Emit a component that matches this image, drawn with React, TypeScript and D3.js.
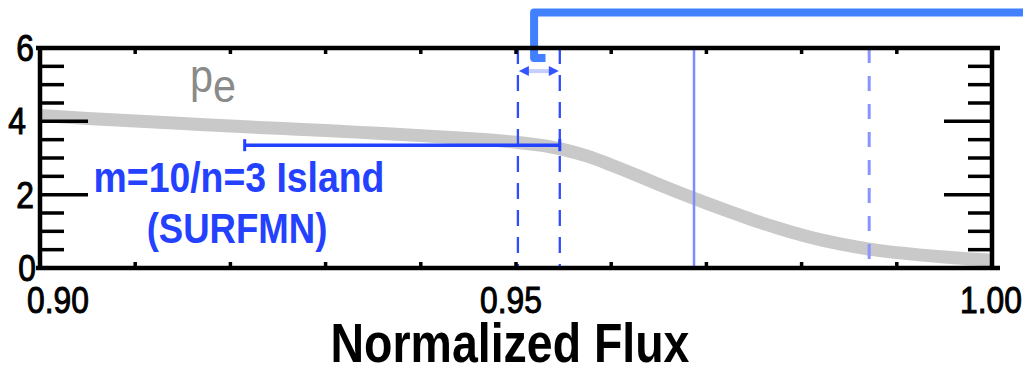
import React from "react";
import * as d3 from "d3";

// Electron pressure profile near the edge (normalized poloidal flux vs p_e)
const fluxValues = [
  0.9, 0.905, 0.91, 0.915, 0.92, 0.925, 0.93, 0.935, 0.94, 0.945, 0.95, 0.9525,
  0.955, 0.9575, 0.96, 0.9625, 0.965, 0.9675, 0.97, 0.9725, 0.975, 0.9775, 0.98,
  0.9825, 0.985, 0.9875, 0.99, 0.995, 1.0,
];
const peValues = [
  4.16, 4.08, 4.01, 3.94, 3.87, 3.81, 3.75, 3.68, 3.61, 3.53, 3.43, 3.35, 3.23,
  3.05, 2.81, 2.55, 2.28, 2.02, 1.77, 1.53, 1.3, 1.09, 0.9, 0.74, 0.61, 0.5,
  0.42, 0.3, 0.21,
];

// Axis ticks
const xLabelTicks = [0.9, 0.95, 1.0];
const xLabelTexts = ["0.90", "0.95", "1.00"];
const xMinorTicks = [0.91, 0.92, 0.93, 0.94, 0.95, 0.96, 0.97, 0.98, 0.99];
const yMajorTicks = [0, 2, 4, 6];
const yMajorTexts = ["0", "2", "4", "6"];
const yMinorTicks = [0.5, 1, 1.5, 2.5, 3, 3.5, 4.5, 5, 5.5];

// m=10/n=3 island extent from SURFMN
const islandFlux = [0.9215, 0.9546];
const islandLevel = 3.35;
// island separatrix bounds (dashed) and resonant surfaces
const islandBounds = [0.9502, 0.9546];
const resonantSolid = [0.9687];
const resonantDashed = [0.9871];
// width arrow between the bounds
const arrowLevel = 5.37;
// call-out bracket
const bracketFlux = 0.9519;
const bracketTop = 6.97;
const bracketFootLevel = 5.73;
const bracketFootFlux = 0.9531;

const W = 1023;
const H = 369;
const FONT = "'Liberation Sans', Arial, Helvetica, sans-serif";
const BLUE = "#2341ff";

export default function App() {
  const x = d3.scaleLinear().domain([0.9, 1.0]).range([40, 992]);
  const y = d3.scaleLinear().domain([0, 6]).range([268, 48]);

  const line = d3
    .line<number>()
    .x((_, i) => x(fluxValues[i]))
    .y((d) => y(d))
    .curve(d3.curveCatmullRom.alpha(0.5));

  const x0 = x.range()[0];
  const x1 = x.range()[1];
  const yTop = y.range()[1];
  const yBot = y.range()[0];

  const tickStroke = 3.5;
  const axisStroke = 4.5;

  const arrowY = y(arrowLevel);
  const aL = x(islandBounds[0]);
  const aR = x(islandBounds[1]);

  const bx = x(bracketFlux);
  const bracketPath = `M ${W + 10} ${y(bracketTop)} H ${bx} V ${y(bracketFootLevel)} H ${x(bracketFootFlux)}`;

  const labelAnchor = (i: number) => (i === 0 || i === xLabelTicks.length - 1 ? "start" : "middle");
  const labelDx = (i: number) => (i === 0 ? -13 : i === xLabelTicks.length - 1 ? -32 : -5);
  const yLabelRight = [36, 34, 26, 34];

  return (
    <svg
      width={W}
      height={H}
      viewBox={`0 0 ${W} ${H}`}
      style={{ position: "absolute", left: 0, top: 0, display: "block", background: "#fff" }}
    >
      {/* pressure profile */}
      <path d={line(peValues) || ""} fill="none" stroke="#c9c9c9" strokeWidth={13} />

      {/* resonant surfaces */}
      {resonantSolid.map((f) => (
        <line key={`s${f}`} x1={x(f)} x2={x(f)} y1={yTop} y2={yBot} stroke="#7f8cff" strokeWidth={2.5} />
      ))}
      {resonantDashed.map((f) => (
        <line
          key={`d${f}`}
          x1={x(f)}
          x2={x(f)}
          y1={yTop}
          y2={yBot}
          stroke="#8a93ff"
          strokeWidth={3}
          strokeDasharray="15 13"
        />
      ))}
      {islandBounds.map((f) => (
        <line
          key={`b${f}`}
          x1={x(f)}
          x2={x(f)}
          y1={yTop}
          y2={yBot}
          stroke="#2f4dff"
          strokeWidth={2.3}
          strokeDasharray="16 11"
        />
      ))}

      {/* island width bar */}
      <line
        x1={x(islandFlux[0])}
        x2={x(islandFlux[1])}
        y1={y(islandLevel)}
        y2={y(islandLevel)}
        stroke={BLUE}
        strokeWidth={3.5}
      />
      {islandFlux.map((f) => (
        <line
          key={`c${f}`}
          x1={x(f)}
          x2={x(f)}
          y1={y(islandLevel) - 6}
          y2={y(islandLevel) + 6}
          stroke={BLUE}
          strokeWidth={3}
        />
      ))}

      {/* width arrow */}
      <line x1={aL + 8} x2={aR - 8} y1={arrowY} y2={arrowY} stroke="#c6ceff" strokeWidth={4} />
      <path d={`M ${aL + 1} ${arrowY} L ${aL + 11} ${arrowY - 5} L ${aL + 11} ${arrowY + 5} Z`} fill="#3355ff" />
      <path d={`M ${aR - 1} ${arrowY} L ${aR - 11} ${arrowY - 5} L ${aR - 11} ${arrowY + 5} Z`} fill="#3355ff" />

      {/* call-out bracket */}
      <path d={bracketPath} fill="none" stroke="#4181ff" strokeWidth={8} strokeLinejoin="round" />

      {/* frame */}
      <g stroke="#000" strokeWidth={axisStroke} fill="none">
        <line x1={x0 - 4} x2={x1 + 8} y1={yTop} y2={yTop} />
        <line x1={x0 - 4} x2={x1 + 8} y1={yBot} y2={yBot} />
        <line x1={x0} x2={x0} y1={yTop - 2} y2={yBot + 2} />
        <line x1={x1} x2={x1} y1={yTop - 2} y2={yBot + 2} />
      </g>

      {/* x ticks (inward, top and bottom) */}
      <g stroke="#000" strokeWidth={tickStroke}>
        {xMinorTicks.map((t) => (
          <g key={`xt${t}`}>
            <line x1={x(t)} x2={x(t)} y1={yTop} y2={yTop + 6} />
            <line x1={x(t)} x2={x(t)} y1={yBot} y2={yBot - 6} />
          </g>
        ))}
      </g>

      {/* y ticks (inward, left and right) */}
      <g stroke="#000" strokeWidth={tickStroke}>
        {yMajorTicks.map((t) => (
          <g key={`ym${t}`}>
            <line x1={x0} x2={x0 + 48} y1={y(t)} y2={y(t)} />
            <line x1={x1} x2={x1 - 48} y1={y(t)} y2={y(t)} />
          </g>
        ))}
        {yMinorTicks.map((t) => (
          <g key={`yn${t}`}>
            <line x1={x0} x2={x0 + 24} y1={y(t)} y2={y(t)} />
            <line x1={x1} x2={x1 - 24} y1={y(t)} y2={y(t)} />
          </g>
        ))}
      </g>

      {/* tick labels */}
      <g fontFamily={FONT} fontSize={37} fill="#000" stroke="#000" strokeWidth={1}>
        {xLabelTicks.map((t, i) => (
          <text
            key={`xl${t}`}
            transform={`translate(${x(t) + labelDx(i)},313) scale(0.86,1)`}
            textAnchor={labelAnchor(i)}
          >
            {xLabelTexts[i]}
          </text>
        ))}
        {yMajorTicks.map((t, i) => (
          <text
            key={`yl${t}`}
            transform={`translate(${yLabelRight[i]},${y(t) + 13}) scale(0.86,1)`}
            textAnchor="end"
          >
            {yMajorTexts[i]}
          </text>
        ))}
      </g>

      {/* axis title */}
      <text
        transform={`translate(510,362) scale(0.83,1)`}
        textAnchor="middle"
        fontFamily={FONT}
        fontWeight="bold"
        fontSize={56}
        fill="#000"
      >
        Normalized Flux
      </text>

      {/* profile label */}
      <text transform="translate(190,92) scale(0.9,1)" fontFamily={FONT} fontSize={46} fill="#8a8a8a">
        p<tspan dy={10}>e</tspan>
      </text>

      {/* island label */}
      <g fontFamily={FONT} fontWeight="bold" fontSize={42} fill={BLUE} textAnchor="middle">
        <text transform="translate(239,192) scale(0.89,1)">m=10/n=3 Island</text>
        <text transform="translate(237,243) scale(0.87,1)">(SURFMN)</text>
      </g>
    </svg>
  );
}
